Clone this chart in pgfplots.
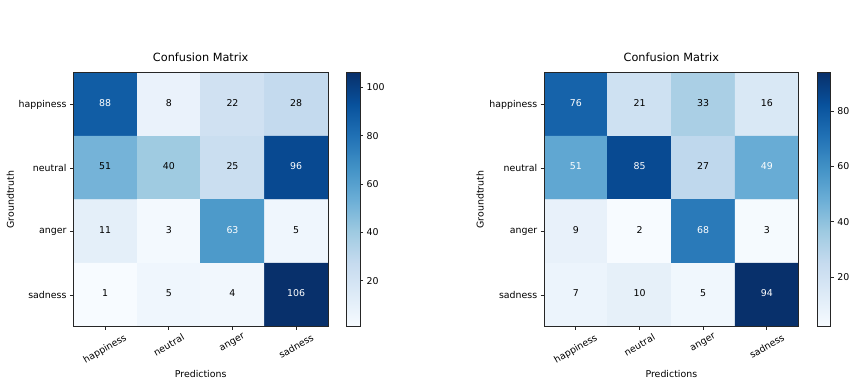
\documentclass[border=0pt]{standalone}
\usepackage{fontspec}
\setmainfont{DejaVu Sans}
\usepackage{graphicx}
\usepackage{pgfplots}
\pgfplotsset{compat=1.18}
\pgfplotsset{
  colormap={blues}{rgb255=(247,251,255) rgb255=(222,235,247) rgb255=(198,219,239) rgb255=(158,202,225) rgb255=(107,174,214) rgb255=(66,146,198) rgb255=(33,113,181) rgb255=(8,81,156) rgb255=(8,48,107)},
  cm/.style={
    scale only axis, width=254.7pt, height=254pt,
    xmin=-0.5, xmax=3.5, ymin=-0.5, ymax=3.5, y dir=reverse,
    enlargelimits=false, axis on top,
    xtick={0,1,2,3}, ytick={0,1,2,3},
    xticklabels={\rotatebox{30}{happiness},\rotatebox{30}{neutral},\rotatebox{30}{anger},\rotatebox{30}{sadness}},
    yticklabels={happiness,neutral,anger,sadness},
    tick align=outside, tick pos=left, major tick length=3.3pt,
    every tick/.style={black!85, line width=0.75pt},
    axis line style={black!85, line width=0.75pt},
    tick label style={font=\fontsize{9.4}{11}\selectfont, inner sep=0pt},
    xticklabel style={anchor=north, yshift=-3.3pt},
    yticklabel style={anchor=east, xshift=-3.3pt},
    title={Confusion Matrix},
    title style={font=\fontsize{11.3}{13}\selectfont, at={(axis description cs:0.5,1.0213)}, anchor=base, inner sep=0pt},
    xlabel={Predictions}, ylabel={Groundtruth},
    label style={font=\fontsize{9.4}{11}\selectfont, inner sep=0pt},
    xlabel style={at={(axis description cs:0.5,-0.1724)}, anchor=north},
    ylabel style={at={(axis description cs:-0.247,0.5)}, anchor=center},
    colormap name=blues,
    colorbar,
  },
  cbar/.style={
    at={(1.073,1)}, anchor=north west, width=13.3pt,
    ytick={#1}, xtick=\empty,
    ytick pos=right, yticklabel pos=right, tick align=outside, major tick length=3.3pt,
    every tick/.style={black!85, line width=0.75pt},
    axis line style={black!85, line width=0.75pt},
    yticklabel style={font=\fontsize{9.4}{11}\selectfont, inner sep=0pt, anchor=west, xshift=3.3pt},
    /pgf/number format/assume math mode=true,
  },
  num/.style={draw=none, mark=none, point meta=explicit symbolic, nodes near coords, nodes near coords align=center,
    every node near coord/.append style={font=\fontsize{9.4}{11}\selectfont, text=#1, inner sep=0pt, yshift=1.5pt}},
}
\begin{document}
\begin{tikzpicture}
\path[use as bounding box] (0,0) rectangle (855pt,382pt);
\begin{axis}[cm, at={(73.3pt,55.3pt)}, anchor=south west,
  point meta min=1, point meta max=106,
  colorbar style={cbar={20,40,60,80,100}}]
\addplot[matrix plot*, mesh/cols=4, mesh/rows=4, point meta=explicit] table[meta=c] {
x y c
0 0 88
1 0 8
2 0 22
3 0 28
0 1 51
1 1 40
2 1 25
3 1 96
0 2 11
1 2 3
2 2 63
3 2 5
0 3 1
1 3 5
2 3 4
3 3 106
};
\addplot[num=white] table[meta=c] {
x y c
0 0 88
3 1 96
2 2 63
3 3 106
};
\addplot[num=black] table[meta=c] {
x y c
1 0 8
2 0 22
3 0 28
0 1 51
1 1 40
2 1 25
0 2 11
1 2 3
3 2 5
0 3 1
1 3 5
2 3 4
};
\end{axis}
\begin{axis}[cm, at={(544pt,55.3pt)}, anchor=south west,
  point meta min=2, point meta max=94,
  ylabel style={at={(axis description cs:-0.251,0.5)}},
  colorbar style={cbar={20,40,60,80}}]
\addplot[matrix plot*, mesh/cols=4, mesh/rows=4, point meta=explicit] table[meta=c] {
x y c
0 0 76
1 0 21
2 0 33
3 0 16
0 1 51
1 1 85
2 1 27
3 1 49
0 2 9
1 2 2
2 2 68
3 2 3
0 3 7
1 3 10
2 3 5
3 3 94
};
\addplot[num=white] table[meta=c] {
x y c
0 0 76
0 1 51
1 1 85
3 1 49
2 2 68
3 3 94
};
\addplot[num=black] table[meta=c] {
x y c
1 0 21
2 0 33
3 0 16
2 1 27
0 2 9
1 2 2
3 2 3
0 3 7
1 3 10
2 3 5
};
\end{axis}
\end{tikzpicture}
\end{document}
